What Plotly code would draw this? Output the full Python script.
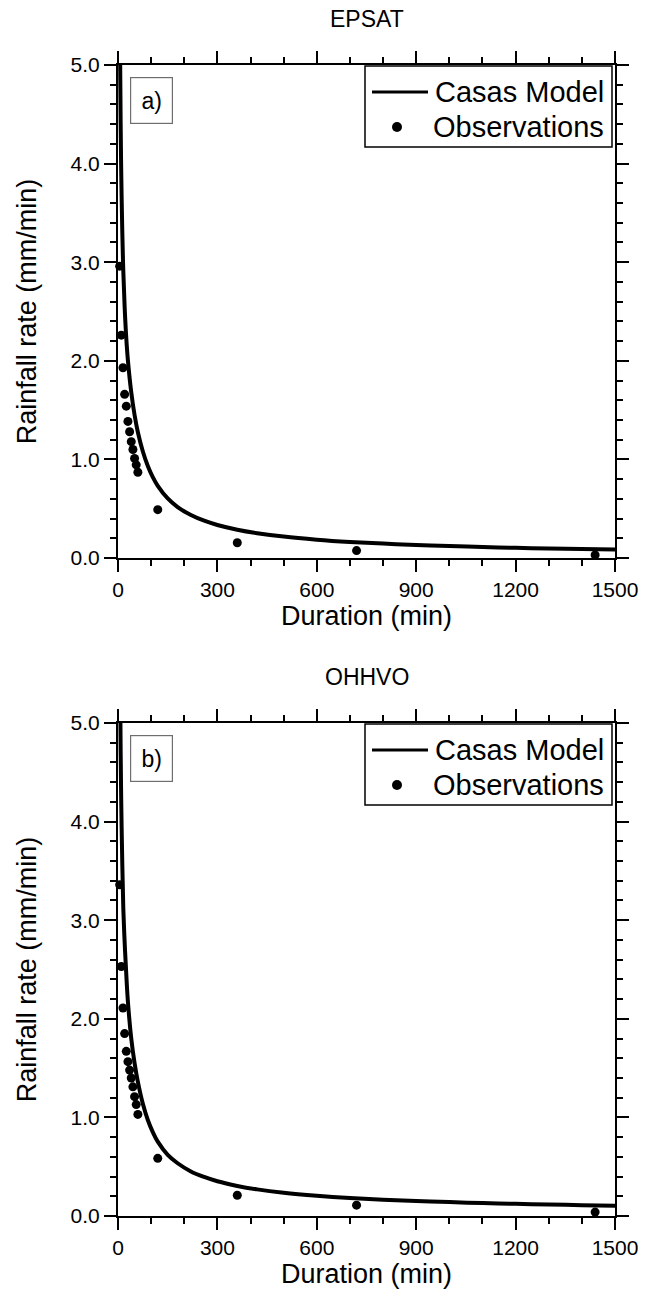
import plotly.graph_objects as go

# Observed rainfall rate (mm/min) for each accumulation duration (min)
obs_duration = [5, 10, 15, 20, 25, 30, 35, 40, 45, 50, 55, 60, 120, 360, 720, 1440]
epsat_obs = [2.96, 2.26, 1.93, 1.66, 1.54, 1.385, 1.28, 1.18, 1.10, 1.01, 0.945, 0.87,
             0.49, 0.155, 0.075, 0.03]
ohhvo_obs = [3.36, 2.53, 2.11, 1.85, 1.67, 1.565, 1.48, 1.40, 1.31, 1.21, 1.13, 1.03,
             0.585, 0.21, 0.11, 0.04]

# Casas model curve sampled along the duration axis
model_duration = [4, 6, 8, 10, 13, 16, 20, 25, 30, 40, 50, 60, 75, 90, 105, 120, 150,
                  180, 220, 260, 300, 360, 420, 500, 600, 700, 800, 900, 1000, 1100,
                  1200, 1300, 1400, 1500]
epsat_model = [6.68, 5.24, 4.41, 3.86, 3.30, 2.91, 2.55, 2.23, 2.00, 1.68, 1.45, 1.276,
               1.08, 0.933, 0.82, 0.732, 0.604, 0.517, 0.436, 0.378, 0.335, 0.287,
               0.252, 0.217, 0.186, 0.163, 0.146, 0.132, 0.121, 0.111, 0.103, 0.096,
               0.0905, 0.085]
ohhvo_model = [7.10, 5.60, 4.72, 4.15, 3.56, 3.12, 2.78, 2.45, 2.17, 1.80, 1.55, 1.36,
               1.138, 0.974, 0.851, 0.754, 0.62, 0.535, 0.452, 0.396, 0.352, 0.305,
               0.27, 0.236, 0.206, 0.183, 0.166, 0.152, 0.141, 0.131, 0.123, 0.116,
               0.110, 0.105]

x_ticks = [0, 300, 600, 900, 1200, 1500]
y_ticks = [0, 1, 2, 3, 4, 5]

panels = [
    ("EPSAT", "a)", epsat_model, epsat_obs),
    ("OHHVO", "b)", ohhvo_model, ohhvo_obs),
]

W, H = 649, 1304
PLOT_L, PLOT_R = 118, 615
tops = [65, 723]
bottoms = [558, 1216]
AREA_T, AREA_B = tops[0], bottoms[-1]
FONT = "Liberation Sans, Arial, Helvetica, sans-serif"


def px_x(px):
    """Page pixel column -> paper x (plot area spans the margins' interior)."""
    return (px - PLOT_L) / (PLOT_R - PLOT_L)


def px_y(py):
    """Page pixel row -> paper y."""
    return (AREA_B - py) / (AREA_B - AREA_T)


fig = go.Figure()
annotations = []
shapes = []

for i, (title, tag, model, obs) in enumerate(panels):
    n = "" if i == 0 else str(i + 1)
    fig.add_trace(go.Scatter(
        x=model_duration, y=model, mode="lines", name="Casas Model",
        line=dict(color="black", width=4, shape="spline", smoothing=1.0),
        xaxis="x" + n, yaxis="y" + n, showlegend=False,
    ))
    fig.add_trace(go.Scatter(
        x=obs_duration, y=obs, mode="markers", name="Observations",
        marker=dict(color="black", size=9),
        xaxis="x" + n, yaxis="y" + n, showlegend=False, cliponaxis=False,
    ))

    top, bot = tops[i], bottoms[i]
    axis_common = dict(
        showline=True, linecolor="black", linewidth=2, mirror="allticks",
        ticks="outside", ticklen=12, tickwidth=2, tickcolor="black",
        showgrid=False, zeroline=False, automargin=False,
        tickfont=dict(family=FONT, size=21, color="black"),
    )
    fig.layout["xaxis" + n] = dict(
        axis_common, domain=[0, 1], range=[0, 1500],
        tickvals=x_ticks, anchor="y" + n,
        minor=dict(dtick=100, tick0=0, ticks="outside", ticklen=6, tickwidth=1.5,
                   tickcolor="black"),
        title=dict(text="Duration (min)", font=dict(family=FONT, size=27, color="black"),
                   standoff=0),
    )
    fig.layout["yaxis" + n] = dict(
        axis_common, domain=[px_y(bot), px_y(top)], range=[0, 5],
        tickvals=y_ticks, tickformat=".1f", anchor="x" + n,
        minor=dict(dtick=0.2, tick0=0, ticks="outside", ticklen=6, tickwidth=1.5,
                   tickcolor="black"),
        title=dict(text="Rainfall rate (mm/min)",
                   font=dict(family=FONT, size=27, color="black"), standoff=26),
    )

    # panel title
    annotations.append(dict(
        text=title, xref="paper", yref="paper",
        x=0.5, y=px_y(top - 46), xanchor="center", yanchor="middle", showarrow=False,
        font=dict(family=FONT, size=23, color="black"),
    ))
    # panel tag in a box
    annotations.append(dict(
        text=tag, xref="paper", yref="paper",
        x=px_x(151.5), y=px_y(top + 35.5), xanchor="center", yanchor="middle",
        showarrow=False, bordercolor="#6e6e6e", borderwidth=1.2, borderpad=8,
        width=25, height=29, bgcolor="white",
        font=dict(family=FONT, size=23, color="black"),
    ))

    # key: framed box with line sample and marker sample
    shapes.append(dict(
        type="rect", xref="paper", yref="paper",
        x0=px_x(365), x1=px_x(612), y0=px_y(top + 82), y1=px_y(top + 1),
        line=dict(color="black", width=1.5), fillcolor="white", layer="above",
    ))
    shapes.append(dict(
        type="line", xref="paper", yref="paper",
        x0=px_x(372), x1=px_x(428), y0=px_y(top + 27), y1=px_y(top + 27),
        line=dict(color="black", width=3), layer="above",
    ))
    shapes.append(dict(
        type="circle", xref="paper", yref="paper",
        x0=px_x(392), x1=px_x(402), y0=px_y(top + 67), y1=px_y(top + 57),
        line=dict(color="black", width=0), fillcolor="black", layer="above",
    ))
    for label, dy in (("Casas Model", 27), ("Observations", 62)):
        annotations.append(dict(
            text=label, xref="paper", yref="paper",
            x=px_x(606), y=px_y(top + dy), xanchor="right", yanchor="middle",
            showarrow=False, font=dict(family=FONT, size=29, color="black"),
        ))

fig.update_layout(
    width=W, height=H,
    margin=dict(l=PLOT_L, r=W - PLOT_R, t=AREA_T, b=H - AREA_B, autoexpand=False),
    paper_bgcolor="white", plot_bgcolor="white",
    annotations=annotations, shapes=shapes, showlegend=False,
)

fig.write_html("out.html")
